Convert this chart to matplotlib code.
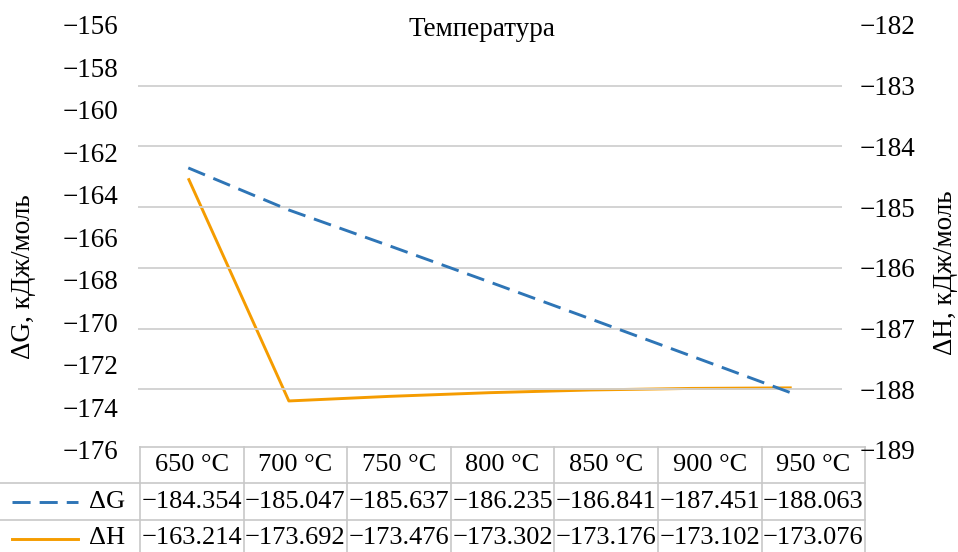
import matplotlib.pyplot as plt

plt.rcParams['font.family'] = ['Liberation Serif', 'DejaVu Serif']

categories = ['650 °C', '700 °C', '750 °C', '800 °C', '850 °C', '900 °C', '950 °C']
dG = [-184.354, -185.047, -185.637, -186.235, -186.841, -187.451, -188.063]
dH = [-163.214, -173.692, -173.476, -173.302, -173.176, -173.102, -173.076]
left_ticks = list(range(-176, -155, 2))
right_ticks = list(range(-189, -181))

BLUE = '#2E75B6'
ORANGE = '#F59C00'
GRID = '#D0D0D0'
FS = 19.5
FS_TAB = 19

W, H = 958, 552
fig = plt.figure(figsize=(W / 100, H / 100), dpi=100)

# plot area in pixels
px0, px1, py0, py1 = 138, 842, 25, 450
ax = fig.add_axes([px0 / W, (H - py1) / H, (px1 - px0) / W, (py1 - py0) / H])
ax2 = ax.twinx()

x = list(range(len(categories)))
ax.set_xlim(-0.5, len(categories) - 0.5)
ax.set_ylim(left_ticks[0], left_ticks[-1])
ax2.set_ylim(right_ticks[0], right_ticks[-1])

# gridlines follow the right axis
for t in right_ticks[1:-1]:
    ax2.axhline(t, color=GRID, lw=1.3, zorder=0)

ax.plot(x, dH, color=ORANGE, lw=2.1, solid_capstyle='butt')
ax2.plot(x, dG, color=BLUE, lw=2.1, linestyle='--', dashes=(6.2, 3.1))

for a in (ax, ax2):
    for s in a.spines.values():
        s.set_visible(False)
    a.set_xticks([])
    a.patch.set_visible(False)
ax.set_yticks(left_ticks)
ax.tick_params(axis='y', length=0, pad=14, labelsize=FS)
ax2.set_yticks(right_ticks)
ax2.tick_params(axis='y', length=0, pad=13, labelsize=FS)

# overlay in pixel coordinates for titles and data table
ov = fig.add_axes([0, 0, 1, 1])
ov.set_xlim(0, W)
ov.set_ylim(H, 0)
ov.axis('off')
ov.set_zorder(-1)

ov.text(482, 30, 'Температура', ha='center', va='center', fontsize=FS)
ov.text(24, 277, 'ΔG, кДж/моль', ha='center', va='center', rotation=90, fontsize=FS)
ov.text(946, 273, 'ΔH, кДж/моль', ha='center', va='center', rotation=90, fontsize=FS)

# data table
tx0, tcw = 140, 103.6
rows_y = [447, 483, 520, 557]
tx1 = tx0 + tcw * len(categories)
lc = '#C8C8C8'
ov.plot([tx0, tx1], [rows_y[0], rows_y[0]], color=lc, lw=1.2)
for yy in rows_y[1:]:
    ov.plot([0, tx1], [yy, yy], color=lc, lw=1.2)
for i in range(len(categories) + 1):
    xx = tx0 + i * tcw
    ov.plot([xx, xx], [rows_y[0], H], color=lc, lw=1.2)

for i, c in enumerate(categories):
    cx = tx0 + (i + 0.5) * tcw
    ov.text(cx, (rows_y[0] + rows_y[1]) / 2, c, ha='center', va='center', fontsize=FS_TAB)
    ov.text(cx, (rows_y[1] + rows_y[2]) / 2, f'{dG[i]:.3f}'.replace('-', '\u2212'),
            ha='center', va='center', fontsize=FS_TAB)
    ov.text(cx, (rows_y[2] + rows_y[3]) / 2, f'{dH[i]:.3f}'.replace('-', '\u2212'),
            ha='center', va='center', fontsize=FS_TAB)

# legend keys in the table
yg = (rows_y[1] + rows_y[2]) / 2
yh = (rows_y[2] + rows_y[3]) / 2
ov.plot([12, 78], [yg, yg], color=BLUE, lw=2.1, linestyle='--', dashes=(6.2, 3.1))
ov.plot([12, 78], [yh, yh], color=ORANGE, lw=2.1)
ov.text(125, yg, 'ΔG', ha='right', va='center', fontsize=FS_TAB)
ov.text(125, yh, 'ΔH', ha='right', va='center', fontsize=FS_TAB)

fig.savefig('out.png', dpi=100)
